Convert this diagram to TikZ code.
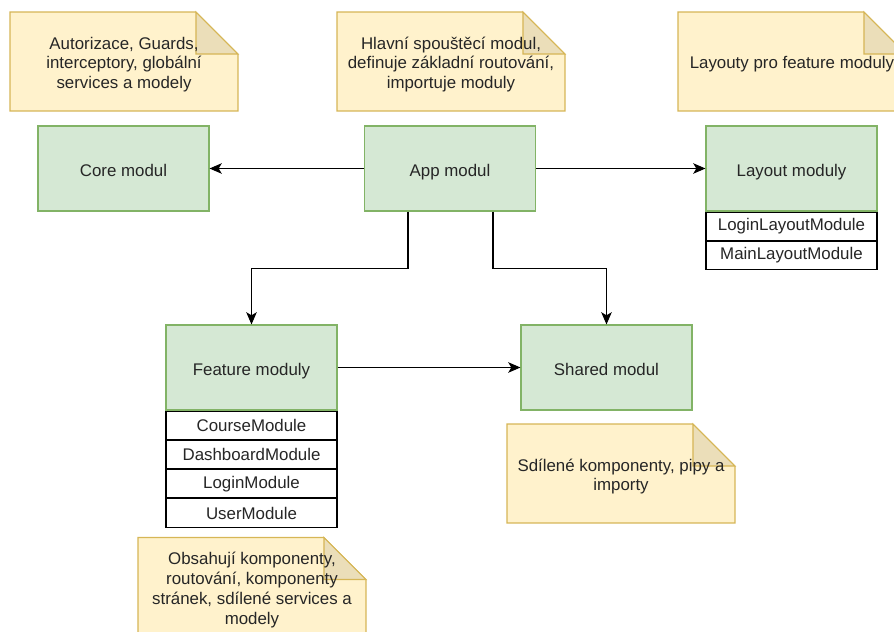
\documentclass[tikz,border=0pt]{standalone}
\usepackage{fontspec}
\setmainfont{Liberation Sans}
\usetikzlibrary{arrows.meta,positioning}
\definecolor{modfill}{HTML}{D5E8D4}
\definecolor{modline}{HTML}{82B366}
\definecolor{notefill}{HTML}{FFF2CC}
\definecolor{noteline}{HTML}{D6B656}
\definecolor{notefold}{HTML}{EBDEB9}
\tikzset{every node/.style={inner sep=0pt,text=black!85,font=\fontsize{9.6}{11.3}\selectfont}}
\tikzset{modul/.style={rectangle,draw=modline,fill=modfill,minimum width=3.42cm,minimum height=1.7cm,text height=0.98em,text depth=0.02em}}
\tikzset{radek/.style={rectangle,draw=black,fill=white,minimum width=3.42cm,minimum height=0.565cm}}
\tikzset{pozn/.style={rectangle,minimum width=4.56cm,minimum height=1.98cm,align=center}}
% note with folded corner: name, x, y, text
\newcommand\poznamka[4]{
  \draw[noteline,fill=notefill] (#2,#3) ++(-2.28cm,0.99cm) -- ++(3.72cm,0) -- ++(0.84cm,-0.84cm)
    -- ++(0,-1.14cm) -- ++(-4.56cm,0) -- cycle;
  \draw[noteline,fill=notefold] (#2,#3) ++(1.44cm,0.99cm) -- ++(0,-0.84cm) -- ++(0.84cm,0) -- cycle;
  \node[pozn] (#1) at (#2,#3+3) {#4};
}

\begin{document}
\begin{tikzpicture}[x=0.02cm,y=-0.02cm,line width=0.6pt,>={Stealth[length=7pt,width=6pt,inset=1.8pt]}]
  \useasboundingbox (0,0) rectangle (894,632);
  \clip (0,0) rectangle (894,632);
  \poznamka{coreNote}{124}{61.5}{Autorizace, Guards,\\interceptory, globální\\services a modely}
  \poznamka{appNote}{451}{61.5}{Hlavní spouštěcí modul,\\definuje základní routování,\\importuje moduly}
  \poznamka{layoutNote}{792}{61.5}{Layouty pro feature moduly}
  \poznamka{sharedNote}{621}{473.5}{Sdílené komponenty, pipy a\\importy}
  \poznamka{featureNote}{252}{587}{Obsahují komponenty,\\routování, komponenty\\stránek, sdílené services a\\modely}

  \node[modul] (core) at (123.5,168.5) {Core modul};
  \node[modul] (app) at (450,168.5) {App modul};
  \node[modul] (layout) at (791.5,168.5) {Layout moduly};
  \node[radek, below=0pt of layout] (loginLayout) {LoginLayoutModule};
  \node[radek, below=0pt of loginLayout] (mainLayout) {MainLayoutModule};

  \node[modul] (feature) at (251.5,367.5) {Feature moduly};
  \node[radek, below=0pt of feature] (course) {CourseModule};
  \node[radek, below=0pt of course] (dashboard) {DashboardModule};
  \node[radek, below=0pt of dashboard] (login) {LoginModule};
  \node[radek, below=0pt of login] (user) {UserModule};
  \node[modul] (shared) at (606.5,367.5) {Shared modul};

  \draw[->] (app) -- (core);
  \draw[->] (app) -- (layout);
  \draw[->] ([xshift=-0.84cm]app.south) -- ++(0,-1.14cm) -| (feature.north);
  \draw[->] ([xshift=0.86cm]app.south) -- ++(0,-1.14cm) -| (shared.north);
  \draw[->] (feature) -- (shared);
\end{tikzpicture}
\end{document}
